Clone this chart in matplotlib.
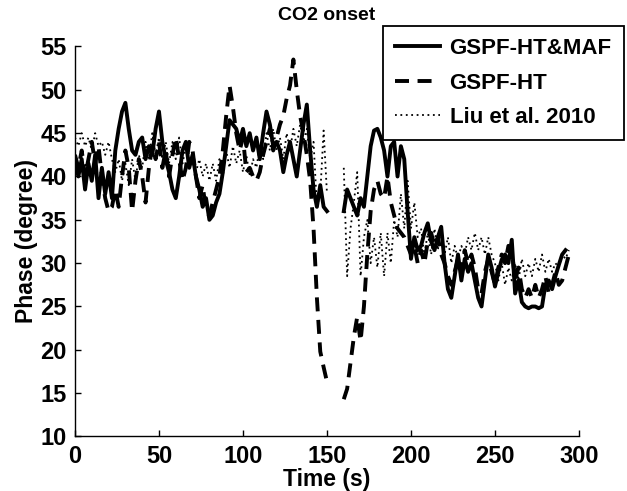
import numpy as np
import matplotlib
matplotlib.use("Agg")
import matplotlib.pyplot as plt

plt.rcParams["font.family"] = ["Liberation Sans", "DejaVu Sans"]
plt.rcParams["font.weight"] = "bold"

# sample times (s), 2 s step; NaN values mark the gap around 150-160 s
time = np.arange(0, 296, 2)

gap = [np.nan] * 4

# GSPF-HT&MAF
gspf_maf = [
    42, 40, 42, 38.5, 41.5, 39.5, 42.5, 37.5, 41, 38,
    40.5, 37.5, 43, 45.5, 47.5, 48.5, 45.5, 43, 42.5, 44,
    44.5, 42, 43.5, 42.5, 45.5, 47.5, 44, 42, 40.5, 38.5,
    37.5, 40, 43, 44, 41, 42.5, 40, 38.5, 36.5, 37.5,
    35, 35.5, 37, 38, 40.5, 43.5, 46.5, 46, 45.5, 44,
    45.5, 43.5, 45, 43, 44.5, 42, 45, 47.5, 46, 43.5,
    44, 43, 40.5, 42.5, 44, 42, 40, 43, 46, 48.3,
    43, 38.5, 36.5, 39, 36.5, 36,
] + gap + [
    36, 38.5, 37.5, 36.5, 35.5, 37.5, 36.5, 40, 43.5, 45.3,
    45.5, 44.5, 43, 40, 43.5, 44, 40, 43.5, 42, 36,
    30.5, 33, 31.5, 32, 33.5, 34.6, 32.5, 31.5, 33, 34.2,
    30, 27, 26, 28.5, 31, 28, 30.5, 29, 30, 28,
    26, 25, 28, 31, 29.5, 27.3, 29, 30.4, 31, 30,
    32.7, 26.5, 28, 25.5, 25, 24.8, 25, 25, 24.8, 25,
    27.5, 28, 27, 28.5, 29.8, 31, 31.5, np.nan,
]

# GSPF-HT
gspf = [
    42.5, 41, 43, 40, 42, 44, 41.5, 43.5, 40, 37.5,
    36, 36.5, 38.5, 36.5, 40, 43, 41, 36, 39.5, 42,
    40, 37, 41, 43.5, 42, 44, 41, 43, 40, 42.5,
    44.5, 42, 39.5, 41, 44, 43, 40, 37.5, 39, 36,
    35.5, 37, 38.5, 40, 43, 47, 50.5, 48, 45, 43,
    44.5, 40.5, 41, 40, 39.5, 40.5, 42.5, 44, 45.5, 43,
    44.5, 46, 47, 49, 50.5, 53.5, 50, 47, 45, 42.5,
    39.5, 34, 26, 19.8, 18, 16.3,
] + gap + [
    14.3, 15.5, 18.5, 21.5, 23.8, 21, 25, 31, 36, 38.5,
    39.5, 38, 37.5, 40, 37, 35.5, 34, 33.5, 33, 32,
    31, 32, 30, 31.5, 30, 32.5, 33.5, 32, 33, 31,
    30, 28.5, 27.5, 29, 30.5, 29, 31.5, 30, 31, 29.5,
    27, 26.5, 29, 30.5, 29, 27.5, 29.5, 31, 30, 32,
    31.5, 28, 29.5, 27, 26, 27, 26, 27.5, 26, 27,
    28.5, 26.5, 27.5, 29, 27.5, 28, 29.5, 31,
]

# Liu et al. 2010
liu = [
    44.5, 43.5, 45, 43.5, 44.5, 43, 45, 43.5, 44, 42.5,
    44, 42, 40.5, 42, 39.5, 41.5, 39, 42, 39.5, 42.5,
    41, 44, 42, 45, 42.5, 44.5, 42, 44, 41.5, 44,
    42, 44.5, 41.5, 43.5, 41, 42.5, 40.5, 42, 40, 41.5,
    39.5, 41.5, 39.5, 42, 40, 43, 41, 43.5, 41.5, 43,
    40.5, 42.5, 40, 42, 41, 43.5, 42, 45, 43, 45.5,
    43, 44.5, 42, 45, 43, 45.5, 43.5, 46, 44, 45.5,
    42, 44, 36.5, 38, 45.3, 38,
] + gap + [
    41, 28.5, 34, 37, 40.5, 28.5, 33, 35, 30, 33,
    29.5, 33.5, 28.5, 33.5, 30, 35, 33, 38, 34, 39.5,
    34, 37, 33, 34, 31, 33.5, 31, 34, 31.5, 34,
    31, 33, 30, 32, 30.5, 32, 31, 33, 31.5, 33.5,
    31.5, 33, 31, 33, 31, 30, 28, 30, 27.5, 29.5,
    28, 30, 28, 30.5, 28.5, 30, 28.5, 30.5, 29, 31,
    29, 30.5, 29, 30, 29.5, 31, 30.5, 31.5,
]

labels = ["GSPF-HT&MAF", "GSPF-HT", "Liu et al. 2010"]
xticks = [0, 50, 100, 150, 200, 250, 300]
yticks = [10, 15, 20, 25, 30, 35, 40, 45, 50, 55]

fig = plt.figure(figsize=(6.27, 4.91), dpi=100)
ax = fig.add_axes([0.1196, 0.111, 0.8038, 0.7943])

ax.plot(time, gspf_maf, color="black", lw=2.8, label=labels[0])
ax.plot(time, gspf, color="black", lw=2.8, dashes=(3.6, 2.2), label=labels[1])
ax.plot(time, liu, color="black", lw=1.3, dashes=(1.0, 2.0), label=labels[2])

ax.set_xlim(0, 300)
ax.set_ylim(10, 55)
ax.set_xticks(xticks)
ax.set_yticks(yticks)
ax.tick_params(direction="in", length=4, width=1, labelsize=17, pad=6)
for lab in ax.get_xticklabels() + ax.get_yticklabels():
    lab.set_fontweight("bold")
ax.spines["top"].set_visible(False)
ax.spines["right"].set_visible(False)
ax.spines["left"].set_linewidth(1)
ax.spines["bottom"].set_linewidth(1)

ax.set_xlabel("Time (s)", fontsize=16.5, fontweight="bold", labelpad=0)
ax.set_ylabel("Phase (degree)", fontsize=16.5, fontweight="bold", labelpad=2)
ax.set_title("CO2 onset", fontsize=14, fontweight="bold", pad=19)

leg = fig.legend(loc="upper right", bbox_to_anchor=(0.995, 0.947),
                 borderaxespad=0, fancybox=False, edgecolor="black",
                 framealpha=1, handlelength=2.0, handletextpad=0.45,
                 labelspacing=0.6, borderpad=0.55,
                 prop={"size": 16, "weight": "bold"})
leg.get_frame().set_linewidth(1.3)

fig.savefig("out.png", dpi=100)
